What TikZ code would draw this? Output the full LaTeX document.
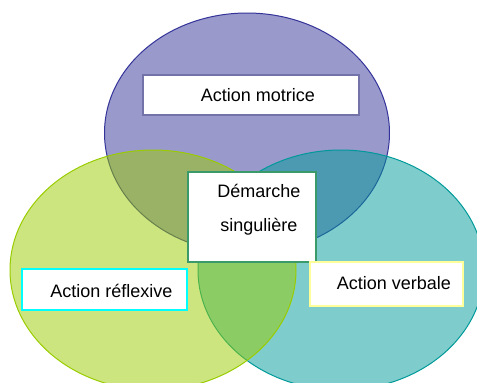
\documentclass[tikz,border=0pt]{standalone}
\usepackage{fontspec}
\setmainfont{Liberation Sans}
\usepackage{xcolor}
\definecolor{cMot}{HTML}{333399}
\definecolor{cRef}{HTML}{99CC00}
\definecolor{cVer}{HTML}{009999}
\definecolor{cMotLine}{HTML}{7373AA}
\definecolor{cDem}{HTML}{3A9A6A}
\definecolor{cRefLine}{HTML}{00FFFF}
\definecolor{cVerLine}{HTML}{FFFF99}
\usepackage{tikz}
\usetikzlibrary{positioning}
\tikzset{
  set-mot/.style={draw=cMot,fill=cMot,fill opacity=0.5,line width=1pt},
  set-ref/.style={draw=cRef,fill=cRef,fill opacity=0.5,line width=1pt},
  set-ver/.style={draw=cVer,fill=cVer,fill opacity=0.5,line width=1pt},
  node-box/.style={fill=white,line width=1.5pt,inner sep=0pt},
  node-lbl/.style={font=\fontsize{18}{34}\selectfont,align=center},
}

\begin{document}
\begin{tikzpicture}[x=1pt,y=-1pt]
  \useasboundingbox (0,0) rectangle (477,383);
  % les trois ensembles
  \draw[set-mot] (247,133) ellipse [x radius=142.5,y radius=120];
  \draw[set-ver] (341,270) ellipse [x radius=143,y radius=120];
  \draw[set-ref] (153,270) ellipse [x radius=143,y radius=120];
  % etiquettes
  \node[node-box,draw=cMotLine,minimum width=216,minimum height=40,
    label={[node-lbl,xshift=7pt]center:Action motrice}] (mot) at (251,95) {};
  \node[node-box,draw=cDem,minimum width=128,minimum height=90,
    label={[node-lbl,xshift=7pt,yshift=7pt]center:Démarche\\singulière}] (dem) at (252,217) {};
  \node[node-box,draw=cRefLine,minimum width=165,minimum height=41,
    label={[node-lbl,xshift=7pt,yshift=-1.5pt]center:Action réflexive}] (ref) at (104.5,289.5) {};
  \node[node-box,draw=cVerLine,minimum width=153,minimum height=44,
    label={[node-lbl,xshift=7.5pt,yshift=1pt]center:Action verbale}] (ver) at (386.5,284) {};
\end{tikzpicture}
\end{document}
